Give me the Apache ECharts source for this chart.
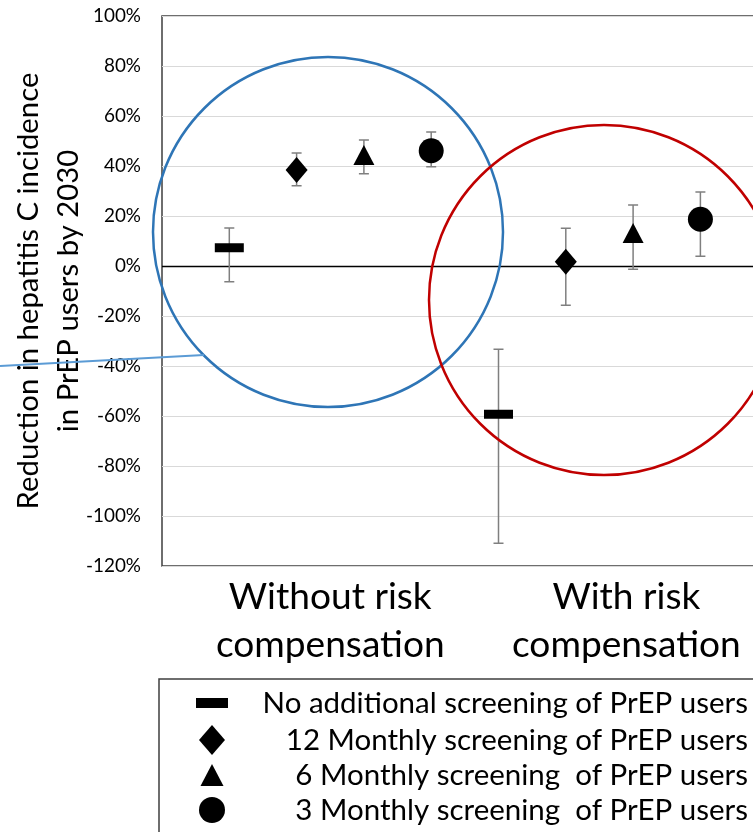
<!DOCTYPE html>
<html>
<head>
<meta charset="utf-8">
<script src="https://cdn.jsdelivr.net/npm/echarts@6/dist/echarts.min.js"></script>
<style>
html,body{margin:0;padding:0;background:#fff;}
#chart{width:753px;height:832px;}
</style>
</head>
<body>
<div id="chart"></div>
<script>
// ---------- data ----------
const groups = ['Without risk\ncompensation', 'With risk\ncompensation'];
const groupLabelPos = [2.5, 6.9];
const strategies = [
  'No additional screening of PrEP users',
  '12 Monthly screening of PrEP users',
  '6 Monthly screening  of PrEP users',
  '3 Monthly screening  of PrEP users'
];
// values per group: [without risk compensation, with risk compensation] (%)
const noScreenVal = [7.3, -59.3];
const noScreenLo  = [-6.3, -110.9];
const noScreenHi  = [15.2, -33.3];
const m12Val = [38.4, 1.7];
const m12Lo  = [32.1, -15.7];
const m12Hi  = [45.2, 15.1];
const m6Val = [44.4, 13.2];
const m6Lo  = [36.9, -1.3];
const m6Hi  = [50.4, 24.4];
const m3Val = [46.1, 18.7];
const m3Lo  = [39.7, 3.9];
const m3Hi  = [53.6, 29.6];
const yTicks = {min: -120, max: 100, interval: 20};

// ---------- styling helpers ----------
const FONT = 'Lato';
const mctx = document.createElement('canvas').getContext('2d');
function fit(text, w) {
  mctx.font = '100px ' + FONT;
  return Math.round(1000 * w / mctx.measureText(text).width) / 10;
}
const tickSize = fit('-120%', 55);
const titleSize = fit('Reduction in hepatitis C incidence', 437);
const groupSize = fit('compensation', 229);
const legendSize = fit('No additional screening of PrEP users', 486);

const vals = [noScreenVal, m12Val, m6Val, m3Val];
const los = [noScreenLo, m12Lo, m6Lo, m3Lo];
const his = [noScreenHi, m12Hi, m6Hi, m3Hi];
const symbols = ['rect', 'diamond', 'triangle', 'circle'];
const symSizes = [[29, 9], [22, 26], [21, 20], 25];
const legendIcon = [[32, 10], [26, 30], [23, 22], [26, 26]];
const legendRowY = [703, 740, 775, 810];
const LEG_LH = 30;

function slot(g, k) { return 1 + 4 * g + k; }

const series = strategies.map((name, k) => ({
  name: name,
  type: 'scatter',
  symbol: symbols[k],
  symbolSize: symSizes[k],
  itemStyle: {color: '#000', opacity: 1},
  z: 5,
  data: vals[k].map((v, g) => [slot(g, k), v])
}));
series[0].markLine = {
  silent: true, symbol: 'none', label: {show: false},
  lineStyle: {color: '#000', width: 1.3, type: 'solid'},
  data: [{yAxis: 0}], z: 2
};
const errData = [];
strategies.forEach((n, k) => {
  vals[k].forEach((v, g) => errData.push([slot(g, k), los[k][g], his[k][g]]));
});
series.push({
  name: 'err', type: 'custom', z: 3,
  data: errData,
  renderItem: function (params, api) {
    const x = api.value(0);
    const lo = api.coord([x, api.value(1)]);
    const hi = api.coord([x, api.value(2)]);
    const c = 5;
    const st = {stroke: '#7f7f7f', lineWidth: 1.5};
    return {type: 'group', children: [
      {type: 'line', shape: {x1: lo[0], y1: lo[1], x2: hi[0], y2: hi[1]}, style: st},
      {type: 'line', shape: {x1: lo[0] - c, y1: lo[1], x2: lo[0] + c, y2: lo[1]}, style: st},
      {type: 'line', shape: {x1: hi[0] - c, y1: hi[1], x2: hi[0] + c, y2: hi[1]}, style: st}
    ]};
  }
});

const legends = strategies.map((name, k) => {
  const w = legendIcon[k][0], h = legendIcon[k][1];
  const left = 212 - w / 2;
  return {
    data: [name], left: left, top: legendRowY[k] - Math.max(h, LEG_LH) / 2, padding: 0,
    itemWidth: w, itemHeight: h, selectedMode: false,
    formatter: n => '{t|' + n + '}',
    textStyle: {rich: {t: {width: 748 - left - w - 5, align: 'right', lineHeight: LEG_LH,
      fontSize: legendSize, fontFamily: FONT, color: '#000'}}}
  };
});

const chart = echarts.init(document.getElementById('chart'));
chart.setOption({
  backgroundColor: '#fff',
  animation: false,
  grid: {left: 162, top: 16, width: 9 * 67.3, height: 550, show: true,
    outerBoundsMode: 'none', containLabel: false,
    borderColor: '#3f3f3f', borderWidth: 1.5, backgroundColor: 'transparent'},
  xAxis: {type: 'value', min: 0, max: 9,
    axisLine: {show: false}, axisTick: {show: false}, splitLine: {show: false},
    axisLabel: {customValues: groupLabelPos, margin: 7,
      formatter: v => groups[groupLabelPos.indexOf(v)] || '',
      fontSize: groupSize, lineHeight: 48, fontFamily: FONT, color: '#000'}},
  yAxis: {type: 'value', min: yTicks.min, max: yTicks.max, interval: yTicks.interval,
    axisLine: {show: false}, axisTick: {show: false},
    splitLine: {lineStyle: {color: '#d9d9d9', width: 1}},
    axisLabel: {formatter: '{value}%', fontSize: tickSize, fontFamily: FONT, color: '#000', margin: 21},
    name: 'Reduction in hepatitis C incidence\nin PrEP users by 2030',
    nameLocation: 'middle', nameRotate: 90, nameGap: 73, nameMoveOverlap: false,
    nameTextStyle: {fontSize: titleSize, lineHeight: 40, fontFamily: FONT, color: '#000'}},
  legend: legends,
  series: series,
  graphic: [
    {type: 'circle', shape: {cx: 328, cy: 232, r: 175}, style: {fill: 'none', stroke: '#2e75b6', lineWidth: 2.5}, z: 10, silent: true},
    {type: 'circle', shape: {cx: 604, cy: 300, r: 175}, style: {fill: 'none', stroke: '#c00000', lineWidth: 2.5}, z: 10, silent: true},
    {type: 'line', shape: {x1: 0, y1: 366, x2: 204, y2: 355}, style: {stroke: '#5b9bd5', lineWidth: 2}, z: 10, silent: true},
    {type: 'rect', shape: {x: 159, y: 679, width: 700, height: 200}, style: {fill: 'none', stroke: '#3f3f3f', lineWidth: 1.5}, z: 1, silent: true}
  ]
});
</script>
</body>
</html>
